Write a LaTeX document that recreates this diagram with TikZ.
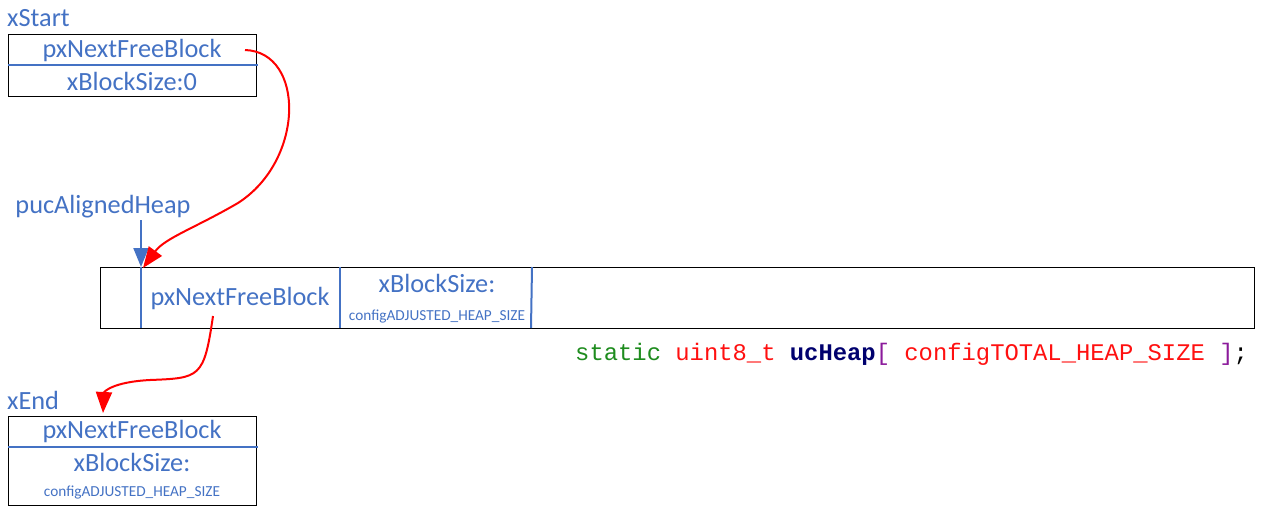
\documentclass[tikz,border=0pt]{standalone}
\usepackage{fontspec}
\setmainfont{Carlito}
\setmonofont{Liberation Mono}
\usetikzlibrary{arrows.meta}
\definecolor{lblue}{HTML}{4472C4}
\definecolor{cgreen}{HTML}{1E8C1E}
\definecolor{cred}{HTML}{FF1010}
\definecolor{cnavy}{HTML}{00006E}
\definecolor{cpurple}{HTML}{8B1A9B}
\tikzset{
  box/.style={draw=black, line width=1.2pt, inner sep=0pt, anchor=north west},
  txt/.style={text=lblue, inner sep=0pt, font=\fontsize{26.3}{30}\selectfont},
  small/.style={text=lblue, inner sep=0pt, font=\fontsize{15.3}{18}\selectfont},
  bline/.style={draw=lblue, line width=2pt},
  redarrow/.style={draw=red, line width=2pt, -{Triangle[length=21pt,width=16pt]}},
  bluearrow/.style={draw=lblue, line width=2pt, -{Triangle[length=19pt,width=15pt]}},
}
\begin{document}
\begin{tikzpicture}[x=1pt,y=-1pt]
\useasboundingbox (0,0) rectangle (1265,515);
% top box
\node[txt, anchor=west] (xstart) at (7,18) {xStart};
\node[box, minimum width=248pt, minimum height=62pt] (top) at (8,34) {};
\node[txt] (topnext) at (132,50) {pxNextFreeBlock};
\node[txt] (topsize) at (132,81) {xBlockSize:0};
\draw[bline] (top.west |- 0,65) -- ([xshift=1pt]top.east |- 0,65);
% heap
\node[txt] (puc) at (103,207) {pucAlignedHeap};
\node[box, minimum width=1154pt, minimum height=61pt] (heap) at (100,267) {};
\coordinate (h1t) at (141,267); \coordinate (h1b) at (141,328);
\coordinate (h2t) at (340,267); \coordinate (h2b) at (340,328);
\coordinate (h3t) at (532,267); \coordinate (h3b) at (531,328);
\draw[bline] (h1t) -- (h1b);
\draw[bline] (h2t) -- (h2b);
\draw[bline] (h3t) -- (h3b);
\node[txt] (heapnext) at (240,298) {pxNextFreeBlock};
\node[txt] (heapsize) at (437,283) {xBlockSize:};
\node[small] (heapcfg) at (437,317) {configADJUSTED\_HEAP\_SIZE};
\coordinate (pucbot) at (141,220);
\draw[bluearrow] (pucbot) -- (h1t);
% code
\node[inner sep=0pt, anchor=west, font=\ttfamily\fontsize{23.85}{28}\selectfont] (code) at (575,354)
  {\textcolor{cgreen}{static} \textcolor{cred}{uint8\_t} \textcolor{cnavy}{\bfseries ucHeap}\textcolor{cpurple}{[} \textcolor{cred}{configTOTAL\_HEAP\_SIZE} \textcolor{cpurple}{]};};
% bottom box
\node[txt, anchor=west] (xend) at (7,400) {xEnd};
\node[box, minimum width=248pt, minimum height=89pt] (bot) at (8,416) {};
\node[txt] (botnext) at (132,431) {pxNextFreeBlock};
\node[txt] (botsize) at (132,462) {xBlockSize:};
\node[small] (botcfg) at (132,493) {configADJUSTED\_HEAP\_SIZE};
\draw[bline] (bot.west |- 0,447) -- ([xshift=1pt]bot.east |- 0,447);
% red arrows
\coordinate (s1) at (245,50);
\coordinate (e1) at (143,268);
\draw[redarrow] (s1) .. controls (305,52) and (305,160) .. (238,203)
  .. controls (195,228) and (165,238) .. (e1);
\coordinate (s2) at (213,316);
\coordinate (e2) at (103,413);
\draw[redarrow] (s2) .. controls (204,378) and (200,378) .. (150,380)
  .. controls (112,382) and (104,392) .. (e2);
\end{tikzpicture}
\end{document}
